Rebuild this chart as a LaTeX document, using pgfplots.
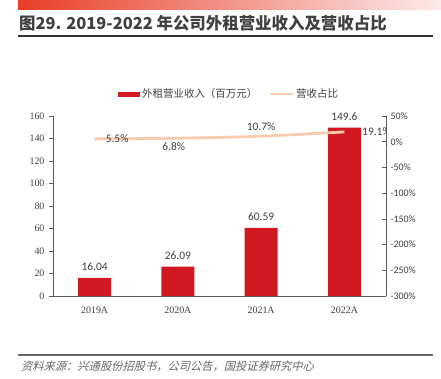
\documentclass[border=0pt]{standalone}
\usepackage{pgfplots}
\pgfplotsset{compat=1.18}
\usepackage{fontspec}
\setmainfont{Liberation Serif}
\newfontfamily\cjk{Noto Sans CJK SC}
\newfontfamily\cjkit[FakeSlant=0.25]{Noto Sans CJK SC}
\newfontfamily\carl{Carlito}
\definecolor{barred}{RGB}{210,24,32}
\definecolor{peach}{RGB}{248,203,173}
\definecolor{txt}{RGB}{64,64,64}
\definecolor{axgray}{RGB}{90,90,90}
\begin{document}
\begin{tikzpicture}[x=1bp,y=1bp]
\path[use as bounding box] (0,0) rectangle (441,378);
\shade[left color={rgb,255:red,232;green,62;blue,38}, right color={rgb,255:red,252;green,234;blue,234}] (18,368) rectangle (441,378);
\node[anchor=west, inner sep=0, text=txt, font=\cjk\bfseries\fontsize{16.5}{16.5}\selectfont] at (19,355) {图29. 2019-2022 年公司外租营业收入及营收占比};
\draw[line width=1.3bp, black!80] (18,342) -- (433,342);
\draw[line width=1.5bp, black!60] (18,23) -- (433,23);
\node[anchor=west, inner sep=0, text=black!60, font=\cjkit\fontsize{11.3}{11.3}\selectfont] at (21,12) {资料来源：兴通股份招股书，公司公告，国投证券研究中心};
% legend
\fill[barred] (118,281.5) rectangle (140,286.5);
\node[anchor=west, inner sep=0, text=txt, font=\cjk\fontsize{10.5}{10.5}\selectfont] at (142,284) {外租营业收入（百万元）};
\draw[peach, line width=2.5bp] (270,284) -- (293,284);
\node[anchor=west, inner sep=0, text=txt, font=\cjk\fontsize{10.5}{10.5}\selectfont] at (296,284) {营收占比};
\begin{axis}[
  at={(53bp,82bp)}, anchor=south west, scale only axis,
  width=333bp, height=180bp,
  xmin=-0.5, xmax=3.5, ymin=0, ymax=160,
  xtick={0,1,2,3}, xticklabels={2019A,2020A,2021A,2022A},
  ytick={0,20,...,160},
  axis x line*=bottom, axis y line*=left,
  axis line style={axgray, line width=0.8bp},
  x axis line style={-}, y axis line style={-},
  major x tick style={draw=none},
  major y tick style={axgray, line width=0.6bp},
  tick align=outside, major tick length=4bp,
  tick label style={font=\fontsize{10}{10}\selectfont, text=txt},
  /pgf/number format/assume math mode=true,
  yticklabel style={xshift=-1bp},
  xticklabel style={yshift=-3bp},
  nodes near coords,
  every node near coord/.append style={font=\carl\fontsize{11.5}{11.5}\selectfont, text=txt, yshift=4bp},
]
\addplot[ybar, bar width=33bp, fill=barred, draw=none] coordinates {(0,16.04) (1,26.09) (2,60.59) (3,149.6)};
\end{axis}
\begin{axis}[
  at={(53bp,82bp)}, anchor=south west, scale only axis,
  width=333bp, height=180bp,
  xmin=-0.5, xmax=3.5, ymin=-300, ymax=50,
  axis x line=none, axis y line*=right,
  axis line style={axgray, line width=0.8bp}, y axis line style={-},
  ytick={-300,-250,...,50},
  yticklabel={\pgfmathprintnumber{\tick}\%},
  tick align=inside, major tick length=4bp,
  major y tick style={axgray, line width=0.6bp},
  tick label style={font=\carl\fontsize{10}{10}\selectfont, text=txt},
  /pgf/number format/assume math mode=true,
  yticklabel style={xshift=1bp},
]
\addplot[peach, line width=2.8bp, smooth, tension=0.5] coordinates {(0,5.5) (1,6.8) (2,10.7) (3,19.1)};
\begin{scope}[font=\carl\fontsize{11.5}{11.5}\selectfont, text=txt]
\node[anchor=center] at (axis cs:0.27,5.5) {5.5\%};
\node[anchor=center] at (axis cs:0.95,-10) {6.8\%};
\node[anchor=center] at (axis cs:2,30) {10.7\%};
\node[anchor=west, inner sep=1bp] at (axis cs:3.2,19.1) {19.1\%};
\end{scope}
\end{axis}
\end{tikzpicture}
\end{document}
